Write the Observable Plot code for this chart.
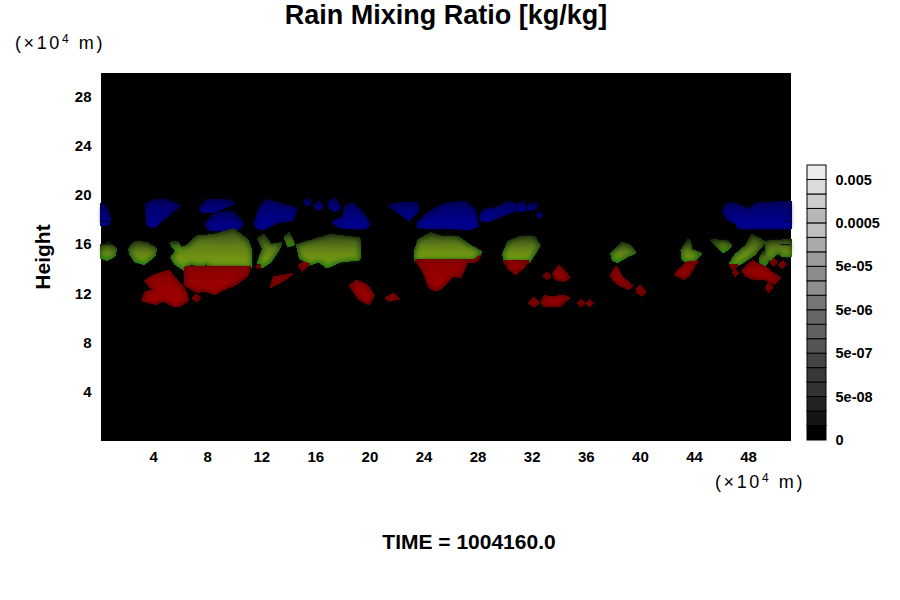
<!DOCTYPE html>
<html><head><meta charset="utf-8">
<script src="https://cdn.jsdelivr.net/npm/d3@7"></script>
<script src="https://cdn.jsdelivr.net/npm/@observablehq/plot@0.6"></script>
<style>
html,body{margin:0;padding:0;background:#fff}
#page{position:relative;width:900px;height:600px;overflow:hidden;font-family:"Liberation Sans",Arial,sans-serif;color:#000}
#page svg{position:absolute;top:0;left:0;overflow:visible}
#bar{position:absolute;left:790px;top:155px;width:110px;height:295px}
#title{position:absolute;left:0;width:892px;top:-2px;text-align:center;font-weight:bold;font-size:27px;line-height:34px;margin:0}
#time{position:absolute;left:0;width:938px;top:530px;text-align:center;font-weight:bold;font-size:21px;line-height:24px}
.unit{position:absolute;font-size:18px;line-height:20px;letter-spacing:2.6px;white-space:nowrap}
.unit sup{font-size:12px;line-height:0;vertical-align:6px}
#u1{left:15px;top:33px}#u2{left:715px;top:472px}
</style></head><body>
<div id="page">
<h1 id="title">Rain Mixing Ratio [kg/kg]</h1>
<div class="unit" id="u1">(×10<sup>4</sup> m)</div>
<div id="main"></div>
<div id="bar"></div>
<div class="unit" id="u2">(×10<sup>4</sup> m)</div>
<div id="time">TIME = 1004160.0</div>
</div>
<script>
const xTicks=[4,8,12,16,20,24,28,32,36,40,44,48];
const yTicks=[4,8,12,16,20,24,28];
const barGrays=["#000000","#141414","#222222","#333333","#383838","#444444","#555555","#606060","#666666","#777777","#8e8e8e","#8c8c8c","#9c9c9c","#aaaaaa","#bfbfbf","#b8b8b8","#cdcdcd","#dcdcdc","#ececec"];
const barTickLabels=new Map([[0,"0"],[3,"5e-08"],[6,"5e-07"],[9,"5e-06"],[12,"5e-05"],[15,"0.0005"],[18,"0.005"]]);
const blueBlobs=[
[[.15,19.25],[.44,19.03],[.76,17.95],[.5,17.62],[.15,17.62]],
[[3.5,19.3],[4.14,19.57],[5,19.57],[5.87,19.16],[5.25,18.62],[4.63,18.08],[4.02,17.46],[3.57,17.68]],
[[7.47,18.9],[7.96,19.57],[9.2,19.57],[9.93,19.43],[9.2,19.03],[8.45,18.76],[7.72,18.7]],
[[7.9,17.68],[8.58,18.49],[9.81,18.62],[10.55,17.68],[10.3,17.35],[8.2,17.22]],
[[11.54,17.68],[11.9,19.03],[12.4,19.57],[13.63,19.16],[14.54,18.89],[14.25,18.08],[13.14,17.89],[12.15,17.35],[11.66,17.4]],
[[15.2,19.5],[15.36,19.7],[15.55,19.5],[15.36,19.25]],
[[15.9,19.16],[16.2,19.4],[16.45,19.16],[16.2,18.9]],
[[16.96,19.43],[17.45,19.7],[17.7,19.03],[17.45,18.76],[17.08,19.03]],
[[17.33,17.8],[18.07,18.22],[18.2,19.03],[18.8,19.3],[19.43,18.49],[19.92,17.68],[19.67,17.4],[18.8,17.4],[17.82,17.46]],
[[21.47,19.16],[22.26,19.3],[23.5,19.35],[23.5,18.76],[22.87,18.08],[22.38,18.49]],
[[23.62,17.46],[23.62,17.8],[24.48,18.62],[25.2,19.1],[25.96,19.3],[27.07,19.43],[27.69,18.76],[27.93,17.54],[27.44,17.35]],
[[28.18,18.08],[28.42,18.76],[29.29,18.89],[30.27,19.43],[31,19.16],[30.89,18.89],[29.9,18.49],[28.67,17.95]],
[[31.1,19.3],[31.38,19.43],[31.5,18.89],[31.1,18.76]],
[[31.75,19.16],[32.3,19.3],[32.25,19.03],[31.83,18.89]],
[[32.4,18.43],[32.54,18.6],[32.7,18.43],[32.54,18.25]],
[[46.12,18.76],[46.54,19.35],[47.28,19.16],[47.77,18.89],[47.03,17.8],[46.54,18.08]],
[[47.16,17.68],[47.9,18.76],[48.64,19.3],[51.1,19.43],[51.1,17.4],[47.28,17.4]]
];
const greenBlobs=[
[[.15,15.92],[.69,16.06],[1.18,15.65],[1.06,15.11],[.57,14.84],[.15,14.97]],
[[2.24,15.65],[2.66,16.19],[3.5,16.06],[4.14,15.65],[4.02,15.11],[3.28,14.49],[2.66,14.7],[2.34,15.24]],
[[5.37,14.97],[5.74,15.51],[6.6,15.92],[7.22,16.6],[8.45,16.73],[9.93,17.19],[10.92,16.33],[11.17,15.51],[11.17,14.22],[8.21,14.22],[7.96,14.57],[7.47,14.22],[6.73,14.57],[6.24,14.03],[5.62,14.49]],
[[5.3,16.11],[5.74,16.19],[6,15.65],[5.62,15.65]],
[[11.78,14.57],[12.15,15.65],[11.78,16.46],[12.15,16.73],[12.65,15.92],[13.39,16.06],[13.14,15.51],[12.65,14.7],[12.03,14.22]],
[[13.75,16.6],[14,16.87],[14.32,16.06],[14,15.92]],
[[14.67,15.92],[15.85,16.33],[17.08,16.73],[19.18,16.46],[19.18,14.84],[17.82,14.7],[16.84,14.22],[16.22,14.7],[15.48,14.43],[14.86,14.97]],
[[23.37,15.38],[23.62,16.33],[24.48,16.87],[25.22,16.6],[26.45,16.6],[27.3,15.92],[28.18,15.38],[27.69,14.84],[23.37,14.76]],
[[29.9,15.24],[30.27,16.19],[31.14,16.6],[32.12,16.6],[32.49,15.92],[31.75,14.65],[30.03,14.65]],
[[37.91,15.24],[38.65,16.11],[39.15,15.92],[39.57,15.38],[39.02,15.11],[38.28,14.65],[37.99,14.84]],
[[43.09,15.51],[43.58,16.33],[43.76,15.51],[44.4,15.24],[44.08,14.84],[43.46,14.57],[43.17,14.84]],
[[45.31,16.33],[46.42,16.19],[46.67,15.92],[46.17,15.46],[45.68,15.92]],
[[46.67,14.43],[47.03,15.11],[47.9,15.92],[48.27,16.73],[49.13,16.19],[48.39,15.24],[47.65,14.7],[46.91,14.22]],
[[48.88,14.84],[49.13,15.38],[49.43,14.84],[49.25,14.43],[48.92,14.57]],
[[49.33,16.19],[51.1,16.33],[51.1,15.11],[50.49,15.11],[50.24,15.51],[49.62,14.84],[49.38,15.51]]
];
const redBlobs=[
[[3.35,13.08],[4.02,13.49],[5.13,13.89],[5.74,13.08],[5.99,12.81],[6.48,12],[6.53,11.46],[5.99,11.05],[5.37,11.05],[4.76,11.46],[4.14,11.19],[3.16,11.46],[3.4,12.14],[4.27,12.4],[3.77,12.54]],
[[6.36,14.22],[11.17,14.22],[10.92,13.49],[9.93,12.68],[9.2,12.4],[8.58,12],[7.72,12.27],[7.22,12.14],[6.6,12.54],[6.36,12.68]],
[[6.9,11.68],[7.17,11.95],[7.45,11.68],[7.17,11.4]],
[[11.6,14.22],[11.9,14.38],[11.85,14.1]],
[[12.65,12.54],[12.89,13.35],[14.25,13.62],[13.39,12.95]],
[[14.74,14.3],[15.1,14.57],[15.48,14.43],[14.99,13.89]],
[[18.51,12.68],[19.05,13.08],[19.8,12.68],[20.29,11.87],[19.92,11.14],[19.18,11.6]],
[[21.15,11.68],[21.77,12],[22.14,11.6],[21.39,11.46]],
[[23.37,14.76],[27.7,14.76],[28.18,15.11],[27.9,14.65],[27.2,14.57],[26.7,13.35],[26.2,13.49],[25.2,12.4],[24.8,12.3],[24.4,12.54],[23.9,13.9]],
[[29.9,14.7],[31.75,14.65],[31.26,14.03],[30.77,13.62],[30.27,14.03]],
[[32.85,13.43],[33.1,13.68],[33.35,13.43],[33.1,13.18]],
[[33.53,13.62],[33.97,14.3],[34.34,13.89],[34.76,13.35],[34.34,13.03],[33.72,13.22]],
[[31.75,11.24],[32.12,11.68],[32.54,11.24],[32.12,11]],
[[32.69,11.33],[32.91,11.81],[33.6,11.73],[34.34,11.87],[34.71,11.68],[34.1,11.05],[32.86,11.05]],
[[35.37,11.24],[35.62,11.49],[35.87,11.24],[35.62,10.99]],
[[35.99,11.24],[36.24,11.49],[36.49,11.24],[36.24,10.99]],
[[37.79,13.49],[38.24,14.22],[38.65,13.35],[39.4,12.68],[39.15,12.4],[38.53,12.68],[38.04,13.08]],
[[39.71,12.4],[40,12.68],[40.38,12.14],[40.09,11.87],[39.76,12.14]],
[[42.55,13.62],[43.46,14.57],[44.2,14.65],[43.58,13.49],[43.2,13.22],[42.7,13.49]],
[[46.6,14.38],[47.16,14.38],[46.9,13.89]],
[[47.53,13.89],[48.27,14.65],[49.25,14.16],[49.87,13.62],[50.36,13.3],[49.87,12.81],[49.25,13.22],[48.39,13.22],[47.77,13.49]],
[[49.6,14.57],[49.87,14.82],[50.12,14.57],[49.87,14.3]],
[[50.25,14.38],[50.5,14.65],[50.75,14.38],[50.5,14.1]],
[[49.25,12.54],[49.5,12.85],[49.75,12.54],[49.5,12.15]],
[[46.85,13.68],[47.03,13.88],[47.22,13.68],[47.03,13.45]]
];
const seams=[[.15,.7,17.9],[.15,.9,16.06],[50.7,51.1,17.9],[50.4,51.1,16.0]];
const pts=b=>b.flatMap((p,id)=>p.map(([x,y])=>({x,y,id})));
function defs(){
  const d=d3.create("svg:defs");
  const grad=(id,stops)=>{const g=d.append("linearGradient").attr("id",id).attr("x1",0).attr("x2",0).attr("y1",0).attr("y2",1);
    stops.forEach(([o,c])=>g.append("stop").attr("offset",o).attr("stop-color",c));};
  grad("bb",[[0,"#000048"],[1,"#000078"]]);
  grad("bc",[[0,"#000068"],[1,"#00009c"]]);
  grad("gb",[[0,"#1c2c0c"],[.5,"#2c5a10"],[1,"#1f7a12"]]);
  grad("gc",[[0,"#3e5618"],[.4,"#64841a"],[.8,"#7a9a12"],[1,"#62a012"]]);
  grad("rb",[[0,"#700000"],[1,"#660000"]]);
  grad("rc",[[0,"#8c0000"],[1,"#a40000"]]);
  d.append("filter").attr("id","coreF").attr("x","-20%").attr("y","-20%").attr("width","140%").attr("height","140%")
   .attr("color-interpolation-filters","sRGB").call(e=>{
     e.append("feMorphology").attr("operator","erode").attr("radius",2);
     e.append("feGaussianBlur").attr("stdDeviation",2);});
  return d.node();
}
const withFilter=(index,scales,values,dims,ctx,next)=>{const g=next(index,scales,values,dims,ctx);g.setAttribute("filter","url(#coreF)");return g;};
const blob=(b,base,core,sw)=>[
  Plot.line(pts(b),{x:"x",y:"y",z:"id",curve:"linear-closed",fill:base,stroke:base,strokeWidth:sw,shapeRendering:"crispEdges"}),
  Plot.line(pts(b),{x:"x",y:"y",z:"id",curve:"linear-closed",fill:core,stroke:core,strokeWidth:sw,render:withFilter})
];
const main=Plot.plot({
  width:900,height:480,marginTop:73,marginBottom:40,marginLeft:101,marginRight:110,
  style:{background:"transparent",fontFamily:"'Liberation Sans',Arial,sans-serif",fontSize:"15px",fontWeight:"bold",color:"#000"},
  x:{domain:[.15,51.1]},y:{domain:[.1,29.9]},
  marks:[
    defs,
    Plot.frame({fill:"#000",stroke:"#000"}),
    ...blob(blueBlobs,"url(#bb)","url(#bc)",3.5),
    ...blob(greenBlobs,"url(#gb)","url(#gc)",3.5),
    ...blob(redBlobs,"url(#rb)","url(#rc)",2),
    Plot.ruleY(seams,{y:d=>d[2],x1:d=>d[0],x2:d=>d[1],stroke:"#000",strokeWidth:1}),
    Plot.axisX({ticks:xTicks,tickSize:0,tickPadding:11,label:null,tickFormat:d=>d}),
    Plot.axisY({ticks:yTicks,tickSize:0,tickPadding:10,label:"Height",labelAnchor:"center",labelArrow:"none",labelOffset:66,tickFormat:d=>d})
  ]
});
main.querySelectorAll('g[aria-label="y-axis label"] text').forEach(t=>{t.style.fontSize="21px"});
document.getElementById("main").append(main);
const levels=barGrays.map((g,i)=>({i,g}));
const bar=Plot.plot({
  width:110,height:295,marginTop:10,marginBottom:10,marginLeft:17,marginRight:74,
  style:{background:"transparent",fontFamily:"'Liberation Sans',Arial,sans-serif",fontSize:"14.5px",fontWeight:"bold",color:"#000"},
  x:{domain:[0,1],axis:null},y:{domain:[0,barGrays.length],axis:null},
  marks:[
    Plot.rect(levels,{x1:0,x2:1,y1:"i",y2:d=>d.i+1,fill:"g",stroke:"#000",strokeWidth:1}),
    Plot.axisY({anchor:"right",ticks:[...barTickLabels.keys()],tickSize:0,tickPadding:9,label:null,tickFormat:d=>barTickLabels.get(d)})
  ]
});
document.getElementById("bar").append(bar);
</script></body></html>
